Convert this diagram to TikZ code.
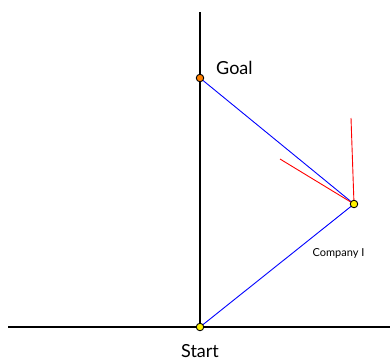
\documentclass[tikz,border=0pt]{standalone}
\usepackage{fontspec}
\setmainfont{Lato}
\begin{document}
\begin{tikzpicture}[x=1pt,y=-1pt,
  axis/.style={line width=2pt,black},
  path/.style={blue,line width=0.9pt},
  dir/.style={red,line width=0.9pt},
  dot/.style={circle,draw=black,line width=0.9pt,inner sep=0pt,minimum size=7.5pt},
  lab/.style={font=\fontsize{18}{21}\selectfont,inner sep=0pt}]
\useasboundingbox (0,0) rectangle (390,360);
\coordinate (ytop) at (200,12);
\coordinate (xl) at (8,327);
\coordinate (xr) at (390,327);
\coordinate (ybot) at (200,327);
\draw[axis] (ytop) -- (ybot);
\draw[axis] (xl) -- (xr);
\coordinate (g) at (200,78);
\coordinate (c) at (354,204);
\coordinate (s) at (200,327);
\coordinate (r1) at (351,118);
\coordinate (r2) at (280,159);
\draw[path] (g) -- (c) -- (s);
\draw[dir] (c) -- (r1);
\draw[dir] (c) -- (r2);
\node[dot,fill=orange] (goal) at (g) {};
\node[dot,fill=yellow] (comp) at (c) {};
\node[dot,fill=yellow] (start) at (s) {};
\node[lab,anchor=base west] (goallab) at (216,74) {Goal};
\node[lab,anchor=base] (startlab) at (200,357) {Start};
\node[font=\fontsize{11}{13}\selectfont,inner sep=0pt] (complab) at (338.5,253) {Company I};
\end{tikzpicture}
\end{document}
